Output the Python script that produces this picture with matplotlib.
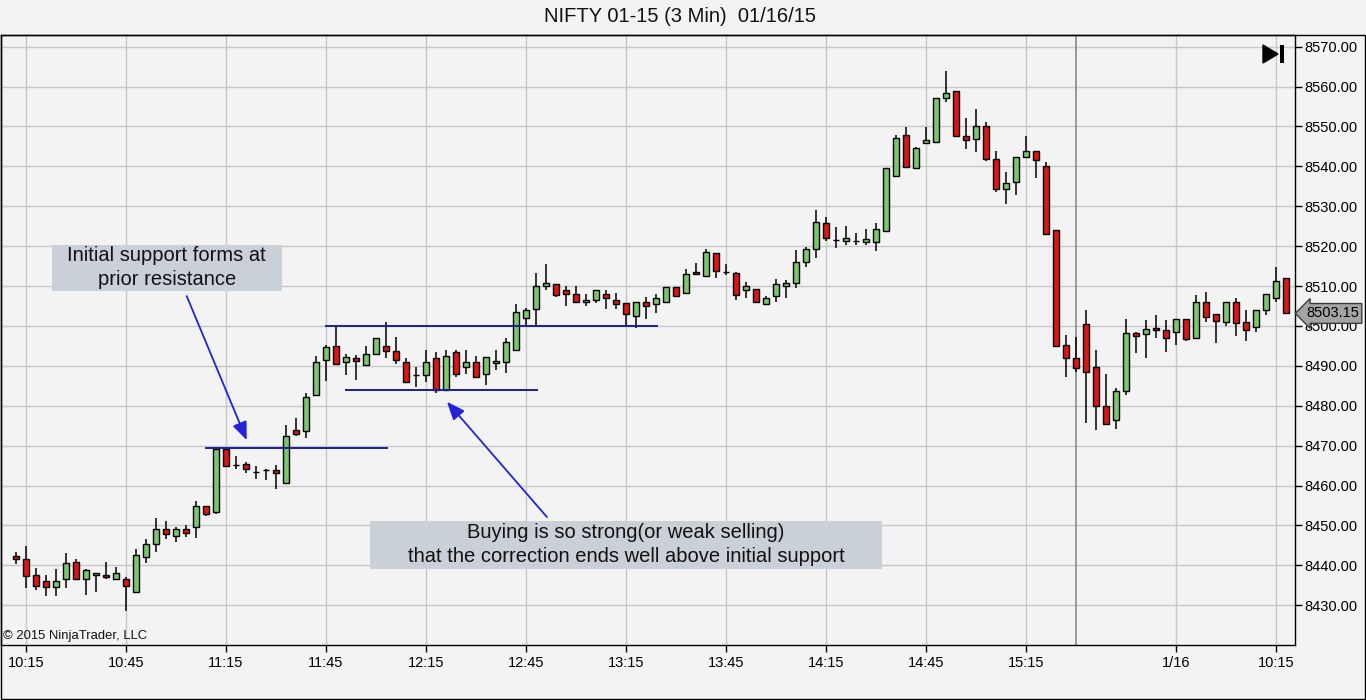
import matplotlib
matplotlib.use('Agg')
import matplotlib.pyplot as plt
import matplotlib.transforms as mtransforms
from matplotlib.patches import Rectangle, Polygon

plt.rcParams['font.family'] = ['Liberation Sans', 'DejaVu Sans']

# 3 min bars, NIFTY Jan fut, 01/15 10:12 .. 01/16 10:18
opens = [8442.3, 8441.6, 8437.6, 8436.1, 8434.5, 8436.5, 8440.8, 8436.7, 8437.5, 8437.6,
         8436.7, 8436.5, 8433.4, 8442.0, 8445.3, 8449.0, 8447.3, 8449.0, 8449.5, 8455.0,
         8453.4, 8469.2, 8465.1, 8465.4, 8463.3, 8463.9, 8463.8, 8460.6, 8474.0, 8473.6,
         8482.6, 8491.5, 8495.0, 8490.9, 8491.9, 8490.2, 8492.9, 8495.0, 8493.8, 8490.9,
         8487.7, 8487.6, 8491.9, 8484.0, 8493.4, 8489.8, 8490.9, 8487.9, 8490.7, 8491.1,
         8494.0, 8501.9, 8504.2, 8510.0, 8510.5, 8508.9, 8508.0, 8506.0, 8506.4, 8508.0,
         8506.4, 8505.7, 8502.6, 8506.0, 8505.4, 8506.1, 8509.7, 8508.2, 8513.5, 8512.6,
         8518.2, 8513.6, 8513.2, 8509.0, 8509.2, 8505.5, 8507.4, 8510.1, 8510.9, 8516.0,
         8519.2, 8525.7, 8521.6, 8521.4, 8521.2, 8521.0, 8521.0, 8523.7, 8537.7, 8547.8,
         8539.7, 8545.8, 8546.2, 8557.1, 8558.8, 8547.7, 8546.8, 8550.0, 8541.8, 8534.4,
         8536.2, 8542.3, 8543.9, 8540.1, 8524.1, 8495.3, 8491.9, 8500.5, 8489.8, 8480.0,
         8476.5, 8483.7, 8498.2, 8497.9, 8499.4, 8499.0, 8498.4, 8501.7, 8496.9, 8505.9,
         8503.0, 8501.1, 8505.9, 8500.9, 8499.8, 8504.0, 8506.9, 8512.0]
highs = [8443.3, 8444.8, 8439.3, 8437.6, 8439.1, 8443.0, 8441.6, 8439.1, 8438.0, 8440.8,
         8439.7, 8437.0, 8444.1, 8446.6, 8451.9, 8451.1, 8449.5, 8450.0, 8456.1, 8455.0,
         8469.1, 8469.2, 8467.4, 8465.8, 8464.8, 8464.1, 8465.1, 8475.2, 8477.0, 8483.1,
         8492.6, 8495.2, 8500.0, 8492.9, 8492.7, 8495.0, 8496.9, 8500.9, 8497.2, 8491.9,
         8489.8, 8494.0, 8493.6, 8494.0, 8494.0, 8494.0, 8492.5, 8492.2, 8494.0, 8496.9,
         8505.4, 8504.4, 8513.2, 8515.5, 8510.5, 8510.0, 8509.9, 8507.9, 8508.9, 8509.0,
         8508.2, 8505.7, 8506.0, 8507.2, 8507.9, 8509.7, 8509.7, 8514.3, 8515.9, 8519.2,
         8518.4, 8515.5, 8513.5, 8511.0, 8509.2, 8507.5, 8511.7, 8511.5, 8519.1, 8519.9,
         8529.1, 8527.4, 8524.7, 8525.1, 8523.2, 8524.2, 8525.8, 8539.5, 8547.9, 8549.8,
         8544.8, 8549.8, 8557.1, 8563.9, 8558.8, 8552.1, 8554.3, 8551.2, 8543.9, 8538.5,
         8542.3, 8547.6, 8543.9, 8541.2, 8524.1, 8497.8, 8497.2, 8504.0, 8494.0, 8487.9,
         8484.4, 8501.7, 8498.6, 8501.4, 8502.8, 8501.5, 8501.7, 8501.7, 8507.8, 8508.6,
         8503.0, 8505.9, 8507.1, 8504.0, 8504.0, 8508.0, 8514.9, 8512.0]
lows = [8440.3, 8434.4, 8433.9, 8432.4, 8432.4, 8434.4, 8436.5, 8432.7, 8433.4, 8436.7,
        8436.3, 8428.6, 8433.0, 8440.5, 8443.4, 8446.5, 8445.8, 8447.2, 8446.9, 8452.3,
        8453.0, 8464.6, 8464.1, 8463.1, 8461.6, 8461.3, 8459.1, 8460.6, 8472.4, 8471.9,
        8482.6, 8486.1, 8490.4, 8487.6, 8486.5, 8490.2, 8492.9, 8491.9, 8490.4, 8485.9,
        8484.6, 8485.9, 8483.3, 8484.0, 8487.1, 8487.9, 8487.3, 8485.2, 8489.0, 8488.2,
        8494.0, 8500.0, 8500.0, 8508.9, 8507.2, 8504.9, 8506.0, 8505.1, 8505.7, 8504.3,
        8504.3, 8500.0, 8499.4, 8501.8, 8503.2, 8505.7, 8507.2, 8508.2, 8512.8, 8512.4,
        8512.0, 8512.8, 8506.5, 8507.0, 8506.0, 8505.3, 8506.1, 8507.1, 8509.6, 8514.9,
        8517.0, 8521.2, 8519.5, 8520.3, 8520.3, 8520.3, 8518.9, 8523.7, 8537.7, 8539.8,
        8539.5, 8545.5, 8546.2, 8556.2, 8547.7, 8544.4, 8543.7, 8541.4, 8533.7, 8530.5,
        8532.8, 8542.3, 8537.2, 8523.0, 8495.1, 8487.3, 8488.5, 8475.6, 8474.0, 8475.4,
        8474.2, 8482.6, 8493.2, 8491.9, 8497.0, 8493.6, 8495.2, 8496.3, 8496.9, 8500.9,
        8495.7, 8500.1, 8497.6, 8496.3, 8498.6, 8502.8, 8505.9, 8503.0]
closes = [8441.5, 8437.4, 8434.9, 8434.7, 8436.1, 8440.5, 8436.5, 8438.8, 8438.0, 8437.0,
          8438.0, 8434.8, 8442.5, 8445.3, 8449.0, 8447.8, 8449.0, 8448.0, 8454.8, 8453.0,
          8469.1, 8465.0, 8465.1, 8464.1, 8463.3, 8463.9, 8463.1, 8472.4, 8472.9, 8482.1,
          8490.9, 8494.7, 8490.4, 8492.3, 8491.3, 8492.9, 8496.9, 8493.8, 8491.5, 8485.9,
          8487.7, 8490.9, 8484.0, 8492.5, 8488.0, 8490.9, 8487.3, 8492.2, 8491.2, 8495.9,
          8503.4, 8504.0, 8510.0, 8510.7, 8507.8, 8508.0, 8506.0, 8506.5, 8508.9, 8507.0,
          8505.4, 8502.9, 8506.0, 8504.9, 8506.9, 8509.7, 8507.6, 8513.0, 8513.0, 8518.5,
          8513.8, 8513.6, 8507.8, 8510.0, 8506.0, 8507.0, 8510.5, 8510.7, 8516.0, 8519.2,
          8526.0, 8522.0, 8521.6, 8522.0, 8521.2, 8521.7, 8524.2, 8539.5, 8547.0, 8539.8,
          8544.5, 8546.6, 8557.1, 8558.4, 8547.7, 8546.5, 8550.0, 8541.9, 8534.3, 8535.8,
          8542.3, 8543.9, 8541.5, 8523.0, 8495.1, 8491.9, 8489.4, 8488.4, 8480.0, 8475.4,
          8483.6, 8498.2, 8497.6, 8499.2, 8498.9, 8496.9, 8501.7, 8496.7, 8505.9, 8502.2,
          8501.2, 8505.9, 8500.7, 8499.0, 8504.0, 8508.0, 8511.3, 8503.15]

time_labels = ['10:15', '10:45', '11:15', '11:45', '12:15', '12:45', '13:15',
               '13:45', '14:15', '14:45', '15:15', '1/16', '10:15']
price_ticks = [8430, 8440, 8450, 8460, 8470, 8480, 8490, 8500, 8510, 8520,
               8530, 8540, 8550, 8560, 8570]

# lines drawn on the chart (start bar, end bar, price)
levels = [(19, 37.1, 8469.4), (31, 64.1, 8500.0), (33, 52.1, 8484.0)]

# bar times: day 1 from 10:12 to 15:30, day 2 from 9:18
bar_times = []
for k in range(107):
    m = 10 * 60 + 12 + 3 * k
    bar_times.append('%d:%02d' % (m // 60, m % 60))
for k in range(len(opens) - 107):
    m = 9 * 60 + 18 + 3 * k
    t = '%d:%02d' % (m // 60, m % 60)
    bar_times.append('1/16' if t == '9:45' else t)

tick_pos = []
start = 0
for lab in time_labels:
    i = bar_times.index(lab, start)
    tick_pos.append(i)
    start = i + 1

W, H = 1366, 700
bg = '#f4f3f3'
fig = plt.figure(figsize=(W / 100, H / 100), dpi=100)
fig.patch.set_facecolor(bg)

def fpx(x, y):
    return (x / W, 1 - y / H)

ax = fig.add_axes([1 / W, 55 / H, 1294 / W, 610 / H])
ax.set_facecolor(bg)
ax.set_xlim(-1.5, 127.9)
ax.set_ylim(8420.05, 8572.93)

ax.set_axisbelow(True)
ax.grid(True, color='#c8c8c8', linewidth=1)
ax.axvline(106, color='#8a8a8a', linewidth=1.2, zorder=1)

idx = list(range(len(opens)))
bottoms = [min(o, c) for o, c in zip(opens, closes)]
heights = [abs(c - o) for o, c in zip(opens, closes)]
colors = ['#7cc66f' if c > o else '#dc1616' for o, c in zip(opens, closes)]

ax.vlines(idx, lows, highs, color='black', linewidth=1.1, zorder=2)
ax.bar(idx, heights, bottom=bottoms, width=0.6, color=colors,
       edgecolor='black', linewidth=1, zorder=3)

for x0, x1, lv in levels:
    ax.plot([x0, x1], [lv, lv], color='#1d1d9e', linewidth=1.4, zorder=4)

# text boxes
box_col = '#c9d0d7'
ax.add_patch(Rectangle((3.57, 8508.7), 23.0, 11.6, facecolor=box_col, edgecolor='none', zorder=5))
ax.text(15.07, 8514.6, 'Initial support forms at\nprior resistance', ha='center', va='center',
        fontsize=14.5, linespacing=1.3, color='#111111', zorder=6)
ax.add_patch(Rectangle((35.4, 8439.1), 51.2, 12.0, facecolor=box_col, edgecolor='none', zorder=5))
ax.text(61.0, 8445.2, 'Buying is so strong(or weak selling)\nthat the correction ends well above initial support',
        ha='center', va='center', fontsize=14.5, linespacing=1.3, color='#111111', zorder=6)

arrow = dict(arrowstyle='-|>,head_length=1.1,head_width=0.45', color='#2222dd',
             linewidth=1.3, shrinkA=0, shrinkB=0)
ax.annotate('', xy=(23.07, 8471.4), xytext=(17.07, 8507.5), arrowprops=arrow, zorder=6)
ax.annotate('', xy=(43.1, 8481.0), xytext=(53.1, 8452.1), arrowprops=arrow, zorder=6)

# axes
for s in ax.spines.values():
    s.set_color('black')
    s.set_linewidth(1)
ax.yaxis.tick_right()
ax.set_yticks(price_ticks)
ax.set_yticklabels(['%.2f' % p for p in price_ticks])
ax.set_xticks(tick_pos)
ax.set_xticklabels(time_labels)
ax.tick_params(axis='y', direction='out', length=5, width=1, pad=2, labelsize=10.5, colors='black')
ax.tick_params(axis='x', direction='out', length=5, width=1, pad=3, labelsize=10.5, colors='black')

# last price tag
trans = mtransforms.blended_transform_factory(ax.transAxes, ax.transData)
ax.text(1.0085, closes[-1], '%.2f' % closes[-1], transform=trans, ha='left', va='center',
        fontsize=10.5, color='black', clip_on=False, zorder=7,
        bbox=dict(boxstyle='larrow,pad=0.2', facecolor='#a4a4a4', edgecolor='#3c3c3c', linewidth=1))

ax.text(2 / 1294, 9 / 610, '\u00a9 2015 NinjaTrader, LLC', transform=ax.transAxes,
        ha='left', va='center', fontsize=9.4, color='#111111')

fig.text(680 / W, 1 - 17 / H, 'NIFTY 01-15 (3 Min)  01/16/15', ha='center', va='center',
         fontsize=14.5, color='#111111')

# go-to-end icon
fig.add_artist(Polygon([fpx(1263, 45), fpx(1263, 63), fpx(1278, 54)], closed=True,
                       transform=fig.transFigure, facecolor='black', edgecolor='black'))
fig.add_artist(Rectangle(fpx(1280, 63), 4 / W, 18 / H, transform=fig.transFigure,
                         facecolor='black', edgecolor='none'))

# outer frame
fig.add_artist(Rectangle((0.5 / W, 1.5 / H), 1364.5 / W, 663.5 / H, transform=fig.transFigure,
                         fill=False, edgecolor='black', linewidth=1))

fig.savefig('out.png', dpi=100, facecolor=bg)
